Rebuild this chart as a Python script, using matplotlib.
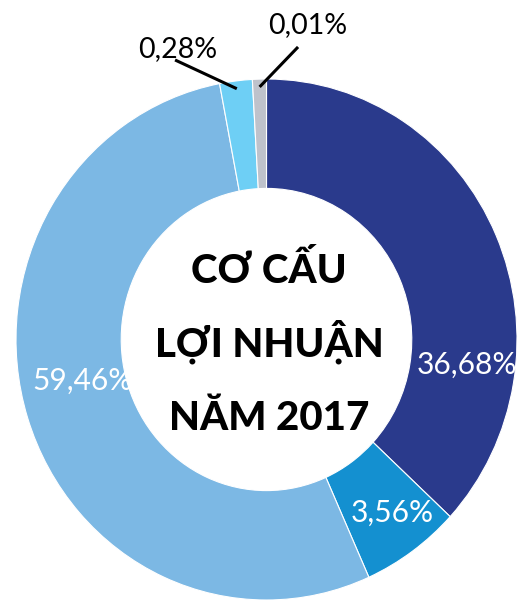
import numpy as np
import matplotlib
matplotlib.use("Agg")
import matplotlib.pyplot as plt

# shares as drawn in the picture (clockwise from the top) and the printed labels
shares = [36.9, 6.4, 53.7, 2.1, 0.9]
labels = ['36,68%', '3,56%', '59,46%', '0,28%', '0,01%']
colors = ['#2A3A8C', '#1490D0', '#7CB8E4', '#6ECFF5', '#BEC2CB']
title_lines = ['CƠ CẤU', 'LỢI NHUẬN', 'NĂM 2017']

fig = plt.figure(figsize=(5.22, 6.02), dpi=100)
ax = fig.add_axes([16 / 522, 2 / 602, 501 / 522, 521 / 602])

wedges, _ = ax.pie(shares, colors=colors, startangle=90, counterclock=False,
                   radius=1, wedgeprops=dict(width=0.42, edgecolor='white', linewidth=0.8))
ax.set_aspect('auto')
ax.set_xlim(-1, 1)
ax.set_ylim(-1, 1)
ax.axis('off')

pct_font = ['Lato', 'DejaVu Sans']

# labels inside the ring
inside = {0: (0.80, -0.132), 1: (0.50, -0.701), 2: (-0.733, -0.194)}
for i, (x, y) in inside.items():
    ax.text(x, y, labels[i], color='white', fontsize=21.5, fontweight='normal',
            family=pct_font, ha='center', va='baseline')

# small slices: labels outside with leader lines
outside = {3: ((-0.353, 1.084), (-0.365, 1.073)), 4: ((0.166, 1.176), (0.126, 1.123))}
for i, ((tx, ty), (lx, ly)) in outside.items():
    w = wedges[i]
    mid = np.deg2rad((w.theta1 + w.theta2) / 2)
    px, py = 0.97 * np.cos(mid), 0.97 * np.sin(mid)
    ax.plot([lx, px], [ly, py], color='black', lw=2.2, solid_capstyle='butt', clip_on=False)
    ax.text(tx, ty, labels[i], color='black', fontsize=20.5, fontweight='normal',
            family=pct_font, ha='center', va='baseline', clip_on=False)

# centre title
for line, y in zip(title_lines, [0.217, -0.067, -0.347]):
    ax.text(0.01, y, line, color='black', fontsize=29, fontweight='black',
            family=['Lato', 'DejaVu Sans'], ha='center', va='baseline')

fig.savefig('out.png', dpi=100)
